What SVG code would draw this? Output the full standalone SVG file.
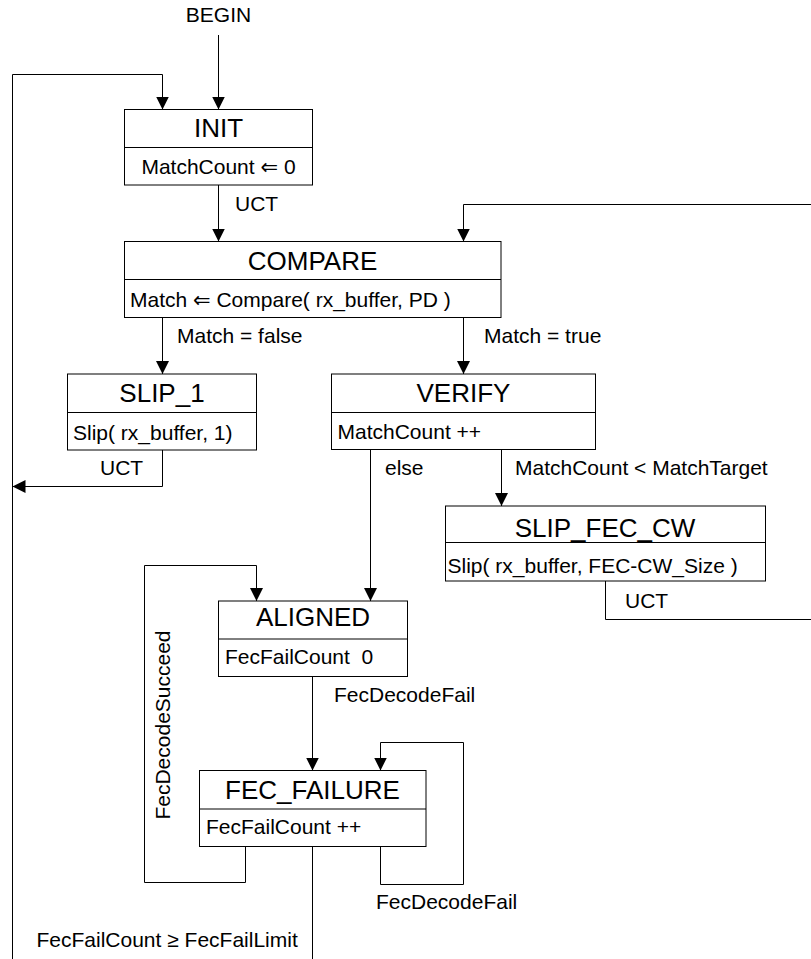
<svg xmlns="http://www.w3.org/2000/svg" width="811" height="959" viewBox="0 0 811 959">
<style>
text{font-family:"Liberation Sans",Arial,"DejaVu Sans",sans-serif;fill:#000;}
.t{font-size:26px;text-anchor:middle;}
.b{font-size:21px;white-space:pre;}
.l{font-size:21px;}
.box{fill:#fff;stroke:#000;stroke-width:1;}
.div{stroke:#000;stroke-width:1;}
.c{fill:none;stroke:#000;stroke-width:1;}
.a{marker-end:url(#arr);}
</style>
<defs>
<marker id="arr" markerUnits="userSpaceOnUse" markerWidth="13" markerHeight="13" refX="13" refY="6.5" orient="auto">
<path d="M0,0 L13,6.5 L0,13 z" fill="#000"/>
</marker>
</defs>
<g id="connectors">
<path class="c a" d="M218.5 35 V109.5"/>
<path class="c a" d="M12.5 959 V74.5 H162.5 V109.5"/>
<path class="c a" d="M218.5 185 V241.5"/>
<path class="c a" d="M605.5 581 V619.5 H813 V204.5 H463.5 V241.5"/>
<path class="c a" d="M162.5 317.5 V374"/>
<path class="c a" d="M463.5 317.5 V374"/>
<path class="c a" d="M162.5 450 V486.5 H12.5"/>
<path class="c a" d="M370.5 449.5 V601"/>
<path class="c a" d="M501.5 449.5 V506"/>
<path class="c a" d="M312.5 676.5 V770.5"/>
<path class="c a" d="M245.5 846.5 V882.5 H144.5 V565.5 H256.5 V601"/>
<path class="c a" d="M380.5 846.5 V884.5 H463.5 V742.5 H380.5 V770.5"/>
<path class="c" d="M312.5 846.5 V959"/>
<text class="l" x="218.5" y="22" text-anchor="middle">BEGIN</text>
<text class="l" x="235" y="210.5">UCT</text>
<text class="l" x="177" y="343">Match = false</text>
<text class="l" x="484" y="343">Match = true</text>
<text class="l" x="100" y="475">UCT</text>
<text class="l" x="385" y="475">else</text>
<text class="l" x="515" y="475">MatchCount &lt; MatchTarget</text>
<text class="l" x="625" y="608">UCT</text>
<text class="l" x="334" y="701.5">FecDecodeFail</text>
<text class="l" x="376" y="908.5">FecDecodeFail</text>
<text class="l" x="36.5" y="946.5">FecFailCount ≥ FecFailLimit</text>
<text class="l" transform="translate(169.5,725) rotate(-90)" text-anchor="middle">FecDecodeSucceed</text>
</g>
<g id="INIT">
<rect class="box" x="124.5" y="109.5" width="188" height="75.5"/>
<line class="div" x1="124.5" y1="147.5" x2="312.5" y2="147.5"/>
<text class="t" x="218.5" y="137">INIT</text>
<text class="b" x="218.5" y="173.5" text-anchor="middle">MatchCount ⇐ 0</text>
</g>
<g id="COMPARE">
<rect class="box" x="124.5" y="241.5" width="376.5" height="76"/>
<line class="div" x1="124.5" y1="279.5" x2="501" y2="279.5"/>
<text class="t" x="312.5" y="270">COMPARE</text>
<text class="b" x="130" y="306.5">Match ⇐ Compare( rx_buffer, PD )</text>
</g>
<g id="SLIP_1">
<rect class="box" x="67.5" y="374" width="189" height="76"/>
<line class="div" x1="67.5" y1="412.5" x2="256.5" y2="412.5"/>
<text class="t" x="162" y="401.5">SLIP_1</text>
<text class="b" x="73" y="440">Slip( rx_buffer, 1)</text>
</g>
<g id="VERIFY">
<rect class="box" x="331.5" y="374" width="264" height="75.5"/>
<line class="div" x1="331.5" y1="412.5" x2="595.5" y2="412.5"/>
<text class="t" x="463.5" y="401.5">VERIFY</text>
<text class="b" x="337.5" y="438.5">MatchCount ++</text>
</g>
<g id="SLIP_FEC_CW">
<rect class="box" x="445.5" y="506" width="320" height="75"/>
<line class="div" x1="445.5" y1="542.5" x2="765.5" y2="542.5"/>
<text class="t" x="605" y="537">SLIP_FEC_CW</text>
<text class="b" x="447.5" y="573">Slip( rx_buffer, FEC-CW_Size )</text>
</g>
<g id="ALIGNED">
<rect class="box" x="218.5" y="601" width="189" height="75.5"/>
<line class="div" x1="218.5" y1="639" x2="407.5" y2="639"/>
<text class="t" x="313" y="625.5">ALIGNED</text>
<text class="b" x="225" y="664">FecFailCount  0</text>
</g>
<g id="FEC_FAILURE">
<rect class="box" x="199.5" y="770.5" width="226.5" height="76"/>
<line class="div" x1="199.5" y1="809" x2="426" y2="809"/>
<text class="t" x="312.5" y="798.5">FEC_FAILURE</text>
<text class="b" x="206" y="833.5">FecFailCount ++</text>
</g>
</svg>
